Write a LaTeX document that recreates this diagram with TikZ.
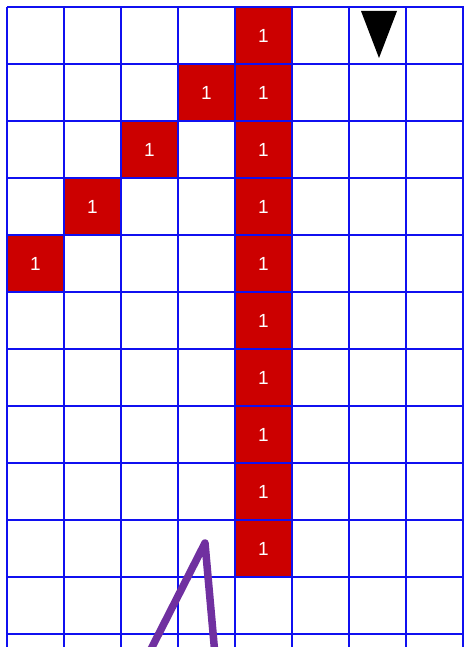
\documentclass[tikz,border=0pt]{standalone}
\usepackage{fontspec}
\setsansfont{Liberation Sans}
\definecolor{cellred}{HTML}{CC0000}
\definecolor{gridblue}{HTML}{1010F0}
\definecolor{pathpurple}{HTML}{7030A0}
\begin{document}
\begin{tikzpicture}[x=1pt,y=-1pt,
  onecell/.style={fill=cellred,draw=red!85!black,line width=0.6pt,minimum size=56pt,inner sep=0pt,
    text=white,font=\sffamily\fontsize{19}{19}\selectfont},
  gridline/.style={gridblue,line width=1.7pt},
  marker/.style={fill=black,draw=none},
  route/.style={pathpurple,line width=7.5pt,line cap=round,line join=round}]
\useasboundingbox (0,0) rectangle (463,647);
\fill[white] (0,0) rectangle (463,647);
% red cells in column 4
\foreach \r in {0,...,9}{
  \node[onecell] (c4r\r) at (263.5,{35.5+57*\r}) {1};
}
% diagonal cells
\node[onecell] (c3r1) at (206.5,92.5) {1};
\node[onecell] (c2r2) at (149.5,149.5) {1};
\node[onecell] (c1r3) at (92.5,206.5) {1};
\node[onecell] (c0r4) at (35.5,263.5) {1};
% grid
\foreach \i in {0,...,8}{
  \draw[gridline] ({7+57*\i},7) -- ({7+57*\i},650);
}
\foreach \j in {0,...,11}{
  \draw[gridline] (7,{7+57*\j}) -- (470,{7+57*\j});
}
% triangle marker
\coordinate (tA) at (361,11);
\coordinate (tB) at (397,11);
\coordinate (tC) at (379,58);
\fill[marker] (tA) -- (tB) -- (tC) -- cycle;
% purple path
\coordinate (pL) at (148,655);
\coordinate (pT) at (205,543);
\coordinate (pR) at (215,655);
\draw[route] (pL) -- (pT) -- (pR);
\end{tikzpicture}
\end{document}
